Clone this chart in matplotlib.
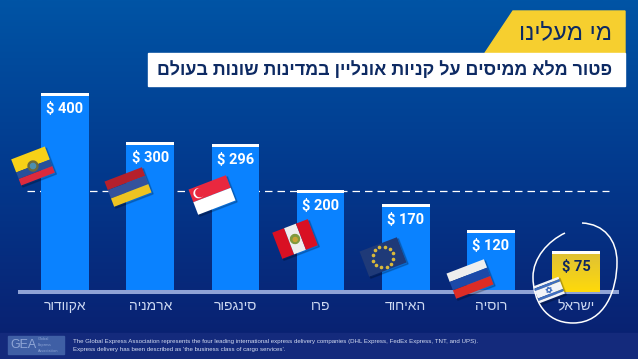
import matplotlib
matplotlib.use("Agg")
import matplotlib.pyplot as plt
import numpy as np
from matplotlib.patches import Polygon, Rectangle, Circle, PathPatch
from matplotlib.path import Path
from matplotlib.transforms import Affine2D

# Hebrew is stored in logical order, matplotlib has no bidi so it gets reversed when drawn
countries = ["אקוודור", "ארמניה", "סינגפור", "פרו", "האיחוד", "רוסיה", "ישראל"]
prices = [400, 300, 296, 200, 170, 120, 75]
# bar heights as drawn in the picture, the low ones are a bit taller than their label
bar_heights = [400, 301, 298, 205, 176, 124, 82]
dashed_level = 203
title = "מי מעלינו"
subtitle = "פטור מלא ממיסים על קניות אונליין במדינות שונות בעולם"
footer_1 = ("The Global Express Association represents the four leading international express "
            "delivery companies (DHL Express, FedEx Express, TNT, and UPS).")
footer_2 = "Express delivery has been described as 'the business class of cargo services'."

W, H = 638, 359
HEB = ["Liberation Sans", "DejaVu Sans"]


def heb(s):
    return s[::-1]


fig = plt.figure(figsize=(W / 100, H / 100), dpi=100)

# background layer in pixel coordinates
bg = fig.add_axes([0, 0, 1, 1], zorder=0)
bg.set_xlim(0, W)
bg.set_ylim(H, 0)
bg.axis("off")
top = np.array([0, 84, 165]) / 255
mid = np.array([3, 56, 140]) / 255
bot = np.array([10, 30, 110]) / 255
t = np.linspace(0, 1, 256)[:, None]
grad = np.where(t < 0.5, top + (mid - top) * t * 2, mid + (bot - mid) * (t - 0.5) * 2)
bg.imshow(grad[:, None, :], extent=(0, W, H, 0), aspect="auto", zorder=0)
bg.set_xlim(0, W)
bg.set_ylim(H, 0)

bg.add_patch(Rectangle((0, 333), W, 26, color="#142a7c", zorder=1))
bg.add_patch(Polygon([(485, 53), (513, 11), (625, 11), (625, 53)], color="#f6cf2f", zorder=1))
bg.add_patch(Rectangle((148, 53), 477, 33, color="white", zorder=1))
bg.text(612, 33, heb(title), ha="right", va="center", fontsize=17, color="#0d2a63",
        family=HEB, zorder=2)
bg.text(612, 70, heb(subtitle), ha="right", va="center", fontsize=12.9, color="#0d2a63",
        family=HEB, fontweight="bold", zorder=2)

# logo and footer
bg.add_patch(Rectangle((8, 336), 56, 18, color="#3f5fa5", zorder=1))
bg.text(10, 345.5, "GEA", fontsize=9, color="#8fa6d6", va="center", family="Liberation Sans", zorder=2)
for k, word in enumerate(["Global", "Express", "Association"]):
    bg.text(38, 339.5 + k * 5.5, word, fontsize=2.5, color="#8fa6d6", va="center", zorder=2)
bg.text(73, 341.5, footer_1, fontsize=4.4, color="#d5ddf2", va="center",
        family="Liberation Sans", zorder=2)
bg.text(73, 349, footer_2, fontsize=4.4, color="#d5ddf2", va="center",
        family="Liberation Sans", zorder=2)

# chart layer, the bars go through the axes scale
x0, x1, y_base, y_top = 20, 617, 292, 60
ax = fig.add_axes([x0 / W, 1 - y_base / H, (x1 - x0) / W, (y_base - y_top) / H], zorder=1)
ax.patch.set_alpha(0)
step = 85.2
ax.set_xlim((x0 - 65) / step, (x1 - 65) / step)
ax.set_ylim(0, (y_base - y_top) / 0.4975)
pos = np.arange(len(countries))

ax.axhline(dashed_level, xmin=0.012, xmax=0.987, color="white", lw=0.9, ls=(0, (6, 4)), zorder=1)

cols = ["#0a82ff"] * 6 + ["#f2ce1e"]
ax.bar(pos, bar_heights, width=0.56, color=cols, zorder=2)
# white cap on top of each bar
ax.bar(pos, [6] * len(pos), width=0.56, bottom=np.array(bar_heights) - 6, color="white", zorder=4)

ramp = np.linspace(0, 1, 64)[:, None, None] * (np.array([255, 218, 10]) - np.array([224, 194, 52])) / 255
ramp = ramp + np.array([224, 194, 52]) / 255
ax.imshow(ramp, extent=(6 - 0.28, 6 + 0.28, 0, bar_heights[6] - 6), aspect="auto", zorder=3, origin="upper")
ax.set_xlim((x0 - 65) / step, (x1 - 65) / step)
ax.set_ylim(0, (y_base - y_top) / 0.4975)

for i, (p, h) in enumerate(zip(prices, bar_heights)):
    c = "#10275f" if i == 6 else "white"
    ax.annotate(f"$ {p}", (i, h), xytext=(0, -11.5), textcoords="offset points", ha="center", va="center",
                fontsize=10.5, fontweight="bold", color=c, family="Roboto", zorder=5)

ax.set_xticks(pos)
ax.set_xticklabels([heb(c) for c in countries], fontsize=10, color="#cdd9f2", family=HEB)
ax.tick_params(axis="x", length=0, pad=5)
ax.set_yticks([])
for s in ["top", "left", "right"]:
    ax.spines[s].set_visible(False)
ax.spines["bottom"].set_color("#8fa3d6")
ax.spines["bottom"].set_linewidth(2.9)

# overlay layer for the flags and the circle
ov = fig.add_axes([0, 0, 1, 1], zorder=2)
ov.set_xlim(0, W)
ov.set_ylim(H, 0)
ov.axis("off")


def flag_tr(cx, cy, angle=21):
    return Affine2D().rotate_deg(-angle).translate(cx, cy) + ov.transData


def flag(cx, cy, w, h, stripes, vertical=False):
    tr = flag_tr(cx, cy)
    ov.add_patch(Rectangle((-w / 2 + 1, -h / 2 + 2), w, h, color="black", alpha=0.18, transform=tr, zorder=3))
    pos_f = 0
    for col, frac in stripes:
        if vertical:
            r = Rectangle((-w / 2 + pos_f * w, -h / 2), frac * w, h, color=col, lw=0, transform=tr, zorder=4)
        else:
            r = Rectangle((-w / 2, -h / 2 + pos_f * h), w, frac * h, color=col, lw=0, transform=tr, zorder=4)
        ov.add_patch(r)
        pos_f += frac
    return tr


# Ecuador
tr = flag(33, 166, 36, 28, [("#f7d117", 0.5), ("#27509b", 0.25), ("#dd2a3d", 0.25)])
ov.add_patch(Circle((0, 0), 5, color="#6d6a3a", transform=tr, zorder=5))
ov.add_patch(Circle((0, 0), 2.6, color="#4d8fb0", transform=tr, zorder=6))
# Armenia
flag(128, 187, 40, 27, [("#b5202c", 0.34), ("#34529c", 0.33), ("#eec322", 0.33)])
# Singapore
tr = flag(212, 195, 40, 27, [("#e9283f", 0.5), ("#ffffff", 0.5)])
ov.add_patch(Circle((-12, -6.5), 4.4, color="white", transform=tr, zorder=5))
ov.add_patch(Circle((-10.5, -6.5), 4, color="#e9283f", transform=tr, zorder=6))
# Peru
tr = flag(295, 239, 38, 28, [("#d91023", 1 / 3), ("#eeeeee", 1 / 3), ("#d91023", 1 / 3)], vertical=True)
ov.add_patch(Circle((0, 0), 4.5, color="#7f9a3f", transform=tr, zorder=5))
ov.add_patch(Circle((0, 0.5), 2, color="#c9a233", transform=tr, zorder=6))
# EU
tr = flag(383, 257, 40, 27, [("#1f3a78", 1)])
for a in np.arange(0, 360, 30):
    ov.plot(10.5 * np.cos(np.radians(a)), 10.5 * np.sin(np.radians(a)), marker="o", ms=1.6, color="#d9b93b",
            transform=tr, zorder=5)
# Russia
flag(470, 279, 40, 27, [("#eeeeee", 1 / 3), ("#1c49a8", 1 / 3), ("#dd2c25", 1 / 3)])
# Israel
tr = flag(549, 290, 27, 18, [("#f2f4f8", 0.14), ("#3f6fc0", 0.14), ("#f2f4f8", 0.44), ("#3f6fc0", 0.14), ("#f2f4f8", 0.14)])
for sgn in (1, -1):
    ov.add_patch(Polygon([(0, -3.2 * sgn), (2.8, 1.6 * sgn), (-2.8, 1.6 * sgn)], fill=False,
                         ec="#3f6fc0", lw=0.7, transform=tr, zorder=5))

# hand drawn ring round Israel
ring = [(582, 223), (604, 224), (617, 240), (617, 262),
        (617, 290), (605, 323), (573, 323),
        (545, 323), (533, 300), (533, 277),
        (533, 258), (548, 241), (565, 233)]
codes = [Path.MOVETO] + [Path.CURVE4] * 12
ov.add_patch(PathPatch(Path(ring, codes), fill=False, ec="white", lw=1.1, zorder=3))

fig.savefig("out.png", dpi=100)
